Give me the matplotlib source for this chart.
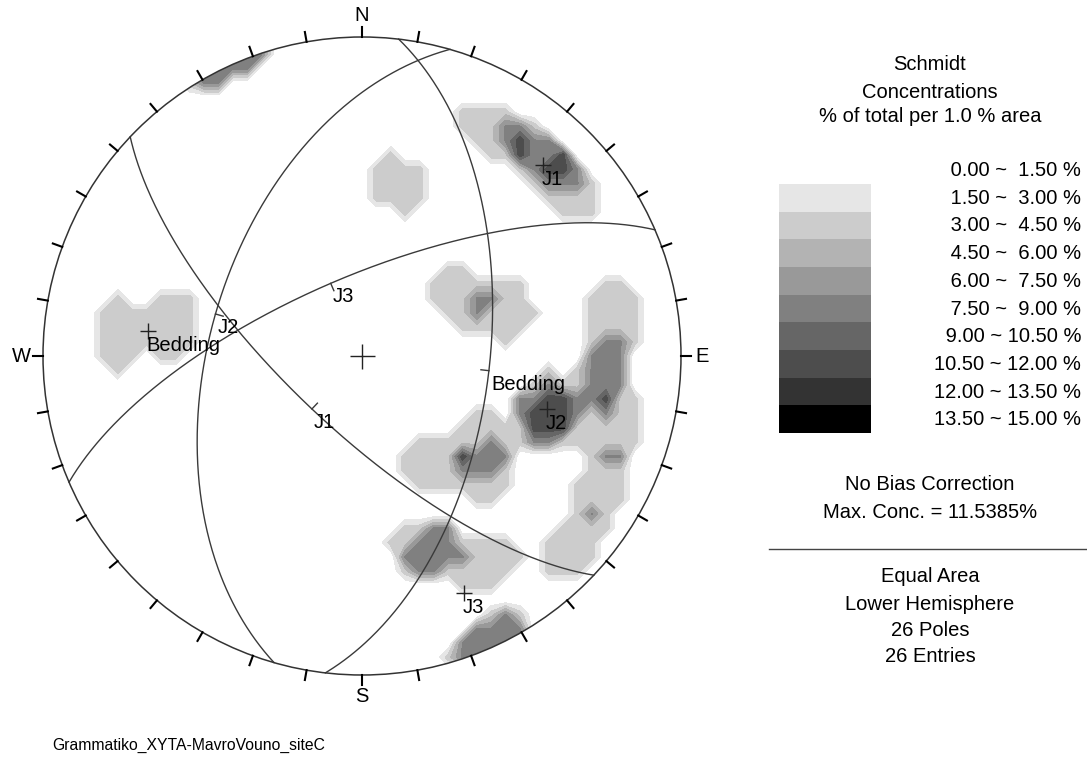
import numpy as np
import matplotlib.pyplot as plt
from matplotlib.patches import Circle

plt.rcParams['font.family'] = ['Liberation Sans', 'DejaVu Sans']

W, H = 1087, 763
CX, CY, R = 362, 356, 319   # net centre and radius in pixels

# poles to planes (trend, plunge in degrees)
pole_trend = np.array([155.0, 156.0,                    # S rim
                       30.7, 39.8, 43.8, 51.3,          # J1 cluster
                       11.5,                            # north centre
                       59.8, 72.2,                      # east of centre
                       275.0, 279.4,                    # west
                       81.5, 92.3, 97.3, 103.9, 109.0, 108.4,   # J2 cluster
                       127.0, 132.9, 146.6,
                       106.3, 119.4, 132.0,
                       161.6, 159.9, 148.9])            # J3 cluster
pole_plunge = np.array([3.0, 2.0,
                        19.4, 16.3, 16.9, 16.8,
                        44.0,
                        60.3, 51.1,
                        24.2, 38.6,
                        20.9, 24.5, 26.9, 39.7, 40.1, 34.9,
                        51.8, 45.6, 57.6,
                        18.5, 15.5, 11.1,
                        37.6, 33.9, 24.5])

# mean set poles
set_names = ["J1", "J2", "J3", "Bedding"]
set_trend = [43.4, 106.0, 156.7, 276.6]
set_plunge = [18.6, 39.5, 20.2, 32.9]

level_edges = np.arange(0, 15.01, 1.5)
level_grays = [1.0, 0.9, 0.8, 0.7, 0.6, 0.5, 0.4, 0.3, 0.2, 0.0]
level_labels = ["%5.2f ~ %5.2f %%" % (a, b) for a, b in zip(level_edges[:-1], level_edges[1:])]

n_poles = len(pole_trend)
FS = 14.5


def line_vec(trend, plunge):
    t, p = np.radians(trend), np.radians(plunge)
    return np.cos(p) * np.sin(t), np.cos(p) * np.cos(t), np.sin(p)


def project(e, n, d):
    # lower hemisphere equal-area, d = downward component
    theta = np.arccos(np.clip(np.abs(d), 0, 1))
    r = np.sqrt(2) * np.sin(theta / 2)
    phi = np.arctan2(e, n)
    return r * np.sin(phi), r * np.cos(phi)


fig = plt.figure(figsize=(W / 100, H / 100), dpi=100)
ax = fig.add_axes([0, 0, 1, 1])
ax.set_xlim(-CX / R, (W - CX) / R)
ax.set_ylim((CY - H) / R, CY / R)
ax.axis('off')

# Schmidt counting, 1% area counting cone
g = np.linspace(-1.08, 1.08, 49)
GX, GY = np.meshgrid(g, g)
gr = np.clip(np.hypot(GX, GY), 0, np.sqrt(2))
theta = 2 * np.arcsin(gr / np.sqrt(2))
phi = np.arctan2(GX, GY)
ge, gn, gd = np.sin(theta) * np.sin(phi), np.sin(theta) * np.cos(phi), np.cos(theta)
pe, pn, pd = line_vec(pole_trend, pole_plunge)
dots = np.abs(ge[..., None] * pe + gn[..., None] * pn + gd[..., None] * pd)
counts = (dots >= 0.99).sum(axis=-1)
density = counts / n_poles * 100

prim = Circle((0, 0), 1, facecolor='none', edgecolor='#333333', lw=1.1, zorder=5)
ax.add_patch(prim)
cs = ax.contourf(GX, GY, density, levels=level_edges[1:].tolist() + [100],
                 colors=[str(v) for v in level_grays[1:]], zorder=1)
cs.set_clip_path(prim)

# great circles of the mean planes
for name, t, p in zip(set_names, set_trend, set_plunge):
    tr, pr = np.radians(t), np.radians(p)
    h = np.array([np.cos(tr), -np.sin(tr), 0.0])
    u = np.array([-np.sin(pr) * np.sin(tr), -np.sin(pr) * np.cos(tr), np.cos(pr)])
    s = np.linspace(0, np.pi, 300)
    v = np.outer(np.cos(s), h) + np.outer(np.sin(s), u)
    x, y = project(v[:, 0], v[:, 1], v[:, 2])
    ax.plot(x, y, color='#3a3a3a', lw=1.0, zorder=3)
    mx, my = project(*u)
    rr = np.hypot(mx, my)
    ax.plot([mx, mx - 8 / R * mx / rr], [my, my - 8 / R * my / rr], color='#3a3a3a', lw=1.0, zorder=3)
    ax.text(mx + 2 / R, my - 4 / R, name, ha='left', va='top', fontsize=FS, zorder=6)

    # pole of the plane
    px, py = project(*line_vec(t, p))
    ax.plot(px, py, marker='+', ms=11, mew=1.0, color='#222222', zorder=6)
    ax.text(px - 1 / R, py - 5 / R, name, ha='left', va='top', fontsize=FS, zorder=6)

ax.plot(0, 0, marker='+', ms=18, mew=1.0, color='#222222', zorder=6)

# 10 degree ticks on the primitive
for az in np.radians(np.arange(0, 360, 10)):
    ax.plot([np.sin(az), (1 + 10 / R) * np.sin(az)], [np.cos(az), (1 + 10 / R) * np.cos(az)],
            color='black', lw=1.5, zorder=5)
for lab, az in zip("NESW", [0, 90, 180, 270]):
    a = np.radians(az)
    ax.text(1.067 * np.sin(a), 1.067 * np.cos(a), lab, ha='center', va='center', fontsize=FS)


def ftext(x, y, s, size=FS, **kw):
    fig.text(x / W, 1 - y / H, s, fontsize=size, va='center', **kw)


ftext(930, 65, "Schmidt", ha='center')
ftext(930, 92, "Concentrations", ha='center')
ftext(930, 117, "% of total per 1.0 % area", ha='center')
for i, lab in enumerate(level_labels):
    ftext(1081, 170.5 + 27.7 * i, lab, ha='right')

sw = fig.add_axes([779 / W, 1 - 433 / H, 92 / W, 249 / H])
sw.barh(np.arange(9), 1, height=1, align='edge', color=[str(v) for v in level_grays[1:]])
sw.set_xlim(0, 1)
sw.set_ylim(9, 0)
sw.axis('off')

ftext(930, 485, "No Bias Correction", ha='center')
ftext(930, 512, "Max. Conc. = %.4f%%" % density.max(), ha='center')
fig.add_artist(plt.Line2D([769 / W, 1], [1 - 549 / H] * 2, color='#444444', lw=1))
ftext(930, 577, "Equal Area", ha='center')
ftext(930, 604, "Lower Hemisphere", ha='center')
ftext(930, 630, "%d Poles" % n_poles, ha='center')
ftext(930, 657, "%d Entries" % n_poles, ha='center')

ftext(52, 745, "Grammatiko_XYTA-MavroVouno_siteC", size=11.3, ha='left')

fig.savefig("out.png", dpi=100, facecolor='white')
